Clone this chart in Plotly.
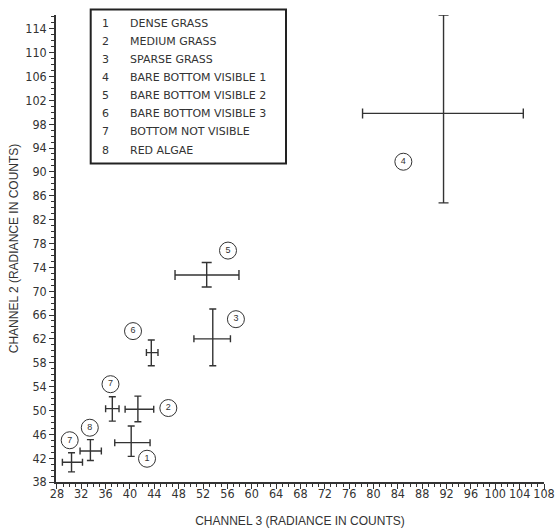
import plotly.graph_objects as go

# ---- data ----
legend_numbers = ["1", "2", "3", "4", "5", "6", "7", "8"]
legend_labels = ["DENSE GRASS", "MEDIUM GRASS", "SPARSE GRASS",
                 "BARE BOTTOM VISIBLE 1", "BARE BOTTOM VISIBLE 2",
                 "BARE BOTTOM VISIBLE 3", "BOTTOM NOT VISIBLE", "RED ALGAE"]

cross_class = ["1", "2", "3", "4", "5", "6", "7", "7", "8"]
ch3_mean = [40.2, 41.3, 53.6, 91.5, 52.6, 43.5, 37.1, 30.4, 33.5]
ch3_low  = [37.5, 39.2, 50.5, 78.2, 47.4, 42.7, 36.0, 28.9, 31.8]
ch3_high = [43.3, 43.9, 56.5, 104.6, 57.9, 44.6, 38.2, 32.2, 35.3]
ch2_mean = [44.6, 50.2, 62.0, 99.8, 72.7, 59.7, 50.3, 41.3, 43.2]
ch2_low  = [42.3, 48.1, 57.5, 84.8, 70.7, 57.5, 48.2, 39.7, 41.6]
ch2_high = [47.4, 52.4, 67.0, 116.3, 74.8, 61.8, 52.3, 42.9, 45.1]

label_text = ["1", "2", "3", "4", "5", "6", "7", "7", "8"]
label_x = [42.8, 46.3, 57.4, 84.9, 56.1, 40.5, 36.8, 30.1, 33.4]
label_y = [41.9, 50.4, 65.3, 91.7, 76.8, 63.3, 54.4, 45.0, 47.1]

x_ticks = list(range(28, 109, 4))
y_ticks = list(range(38, 115, 4))

INK = "#333333"
NARROW = "Liberation Sans Narrow, DejaVu Sans Condensed, Arial Narrow, sans-serif"
SANS = "Liberation Sans, Arial, sans-serif"
WIDE = "DejaVu Sans, Verdana, sans-serif"

fig = go.Figure()

for i in range(len(ch3_mean)):
    cap = 5 if (ch3_high[i] - ch3_low[i]) > 10 else 3.5
    fig.add_trace(go.Scatter(
        x=[ch3_mean[i]], y=[ch2_mean[i]], mode="markers",
        marker=dict(size=1, color="rgba(0,0,0,0)"),
        error_x=dict(type="data", symmetric=False,
                     array=[ch3_high[i] - ch3_mean[i]],
                     arrayminus=[ch3_mean[i] - ch3_low[i]],
                     color=INK, thickness=1.4, width=cap),
        error_y=dict(type="data", symmetric=False,
                     array=[ch2_high[i] - ch2_mean[i]],
                     arrayminus=[ch2_mean[i] - ch2_low[i]],
                     color=INK, thickness=1.4, width=cap),
        showlegend=False, hoverinfo="skip", cliponaxis=False))

fig.add_trace(go.Scatter(
    x=label_x, y=label_y, mode="markers+text", text=label_text,
    textposition="middle center",
    textfont=dict(family=SANS, size=9, color=INK),
    marker=dict(symbol="circle-open", size=17, color=INK, line=dict(width=1, color=INK)),
    showlegend=False, hoverinfo="skip", cliponaxis=False))

# plot area in page pixels
L, R, T, B = 56, 544, 15, 481.7
def px_x(p):
    return (p - L) / (R - L)
def px_y(p):
    return (B - p) / (B - T)

fig.add_shape(type="rect", xref="paper", yref="paper",
              x0=px_x(90.7), x1=px_x(286), y0=px_y(163.3), y1=px_y(9.5),
              line=dict(color="#222222", width=2), fillcolor="white", layer="above")

row0, rowstep = 23.3, 18.1
for k, (n, lab) in enumerate(zip(legend_numbers, legend_labels)):
    yy = px_y(row0 + k * rowstep)
    fig.add_annotation(xref="paper", yref="paper", x=px_x(105), y=yy, text=n,
                       showarrow=False, xanchor="center", yanchor="middle",
                       font=dict(family=WIDE, size=11, color=INK))
    fig.add_annotation(xref="paper", yref="paper", x=px_x(127.7), y=yy, text=lab,
                       showarrow=False, xanchor="left", yanchor="middle",
                       font=dict(family=WIDE, size=11, color=INK))

axis_common = dict(showgrid=False, zeroline=False, showline=True, linecolor=INK,
                   linewidth=1.5, ticks="outside", tickcolor=INK, tickwidth=1.2,
                   ticklen=5, tickfont=dict(family=NARROW, size=12.5, color=INK),
                   minor=dict(dtick=1, ticks="outside", ticklen=3, tickcolor=INK, tickwidth=1),
                   mirror=False)

fig.update_xaxes(range=[27.85, 108], tickmode="array", tickvals=x_ticks,
                 ticktext=[str(v) for v in x_ticks], ticklabelstandoff=-6,
                 title=dict(text="CHANNEL 3 (RADIANCE IN COUNTS)", standoff=17,
                            font=dict(family=SANS, size=12, color=INK)),
                 **axis_common)
fig.update_yaxes(range=[38, 116.3], tickmode="array", tickvals=y_ticks,
                 ticktext=[str(v) for v in y_ticks],
                 title=dict(text="CHANNEL 2 (RADIANCE IN COUNTS)", standoff=4,
                            font=dict(family=SANS, size=12, color=INK)),
                 **axis_common)
fig.update_xaxes(minor=dict(tick0=28))
fig.update_yaxes(minor=dict(tick0=38))

fig.update_layout(width=556, height=528,
                  margin=dict(l=L, r=556 - R, t=T, b=528 - B, autoexpand=False),
                  plot_bgcolor="white", paper_bgcolor="white")

fig.write_html("out.html", config={"displayModeBar": False},
               post_script="document.body.style.margin='0';"
                           "document.documentElement.style.overflow='hidden';")
